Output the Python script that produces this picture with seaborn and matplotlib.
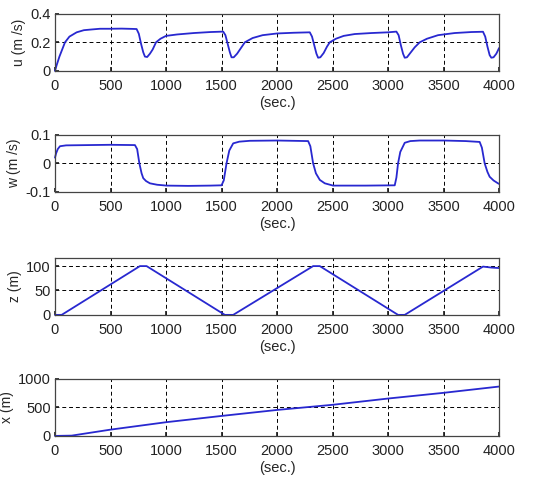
import seaborn as sns
import pandas as pd
import matplotlib.pyplot as plt

sns.set_theme(style="white")
plt.rcParams["font.family"] = ["Liberation Sans", "DejaVu Sans"]

# surge velocity u (m/s)
u_t = [0, 15, 40, 65, 90, 130, 195, 260, 330, 405, 500, 600, 700, 735, 755,
       775, 795, 810, 830, 855, 880, 910, 950, 1000, 1100, 1250, 1400, 1515,
       1535, 1555, 1575, 1590, 1610, 1640, 1675, 1710, 1780, 1870, 2000, 2150,
       2295, 2315, 2335, 2355, 2370, 2390, 2420, 2450, 2475, 2530, 2600, 2700,
       2850, 3000, 3075, 3095, 3115, 3135, 3150, 3170, 3200, 3240, 3285, 3350,
       3450, 3600, 3750, 3855, 3875, 3895, 3915, 3930, 3950, 3975, 4000]
u_v = [0.0, 0.04, 0.10, 0.15, 0.20, 0.24, 0.27, 0.285, 0.29, 0.295, 0.295,
       0.296, 0.294, 0.293, 0.26, 0.19, 0.13, 0.10, 0.097, 0.12, 0.15, 0.20,
       0.225, 0.245, 0.255, 0.265, 0.272, 0.275, 0.25, 0.19, 0.13, 0.095,
       0.095, 0.12, 0.16, 0.20, 0.23, 0.25, 0.262, 0.267, 0.27, 0.24, 0.18,
       0.12, 0.092, 0.095, 0.125, 0.17, 0.20, 0.225, 0.245, 0.258, 0.265,
       0.27, 0.275, 0.25, 0.18, 0.12, 0.092, 0.095, 0.125, 0.165, 0.20,
       0.225, 0.25, 0.265, 0.272, 0.274, 0.24, 0.17, 0.11, 0.092, 0.095,
       0.12, 0.16]

# heave velocity w (m/s)
w_t = [0, 10, 25, 45, 100, 300, 500, 720, 740, 760, 780, 795, 820, 855, 920,
       1005, 1200, 1400, 1500, 1520, 1545, 1570, 1605, 1660, 1755, 2000, 2280,
       2300, 2325, 2350, 2385, 2430, 2505, 2800, 3060, 3075, 3090, 3110, 3150,
       3200, 3285, 3500, 3700, 3825, 3845, 3870, 3895, 3915, 3950, 3990, 4000]
w_v = [0.02, 0.035, 0.05, 0.06, 0.063, 0.064, 0.065, 0.064, 0.05, 0.0,
       -0.035, -0.052, -0.062, -0.07, -0.075, -0.078, -0.079, -0.078, -0.077,
       -0.06, 0.0, 0.045, 0.07, 0.076, 0.079, 0.08, 0.078, 0.06, 0.0, -0.035,
       -0.058, -0.07, -0.078, -0.078, -0.077, -0.05, 0.0, 0.04, 0.072, 0.078,
       0.08, 0.08, 0.078, 0.075, 0.055, 0.0, -0.03, -0.047, -0.06, -0.07,
       -0.072]

# depth z (m)
z_t = [0, 60, 765, 825, 1530, 1605, 2325, 2385, 3090, 3150, 3855, 3930, 4000]
z_v = [0, 0, 100, 100, 0, 0, 100, 100, 0, 0, 99, 97, 96]

# horizontal distance x (m)
x_t = [0, 150, 500, 1000, 1500, 2000, 2500, 3000, 3500, 4000]
x_v = [0, 5, 110, 240, 350, 455, 545, 655, 755, 865]

panels = [
    (u_t, u_v, "u (m /s)", [0, 0.2, 0.4], ["0", "0.2", "0.4"], (0, 0.4)),
    (w_t, w_v, "w (m /s)", [-0.1, 0, 0.1], ["-0.1", "0", "0.1"], (-0.1, 0.1)),
    (z_t, z_v, "z (m)", [0, 50, 100], ["0", "50", "100"], (0, 117)),
    (x_t, x_v, "x (m)", [0, 500, 1000], ["0", "500", "1000"], (0, 1000)),
]
xticks = list(range(0, 4001, 500))
bottoms = [0.856, 0.610, 0.360, 0.114]

fig = plt.figure(figsize=(5.51, 4.92), dpi=100)
fig.patch.set_facecolor("white")
for (t, v, lab, yt, ytl, ylim), b in zip(panels, bottoms):
    ax = fig.add_axes([0.0998, b, 0.806, 0.116])
    df = pd.DataFrame({"t": t, "v": v})
    sns.lineplot(data=df, x="t", y="v", ax=ax, color="#2828d0", lw=1.3,
                 clip_on=False)
    ax.set_xlim(0, 4000)
    ax.set_ylim(*ylim)
    ax.set_xticks(xticks)
    ax.set_xticklabels([str(x) for x in xticks])
    ax.set_yticks(yt)
    ax.set_yticklabels(ytl)
    ax.grid(True, color="black", linestyle=(0, (4, 3)), lw=0.7)
    ax.tick_params(direction="in", length=3, labelsize=10.5, pad=3,
                   colors="#222222", left=True, bottom=True)
    ax.tick_params(axis="x", pad=6)
    for s in ax.spines.values():
        s.set_color("#444444")
        s.set_linewidth(0.9)
    ax.set_xlabel("(sec.)", fontsize=10.5, labelpad=2)
    ax.set_ylabel(lab, fontsize=10, labelpad=3)

fig.savefig("out.png", dpi=100, facecolor="white")
